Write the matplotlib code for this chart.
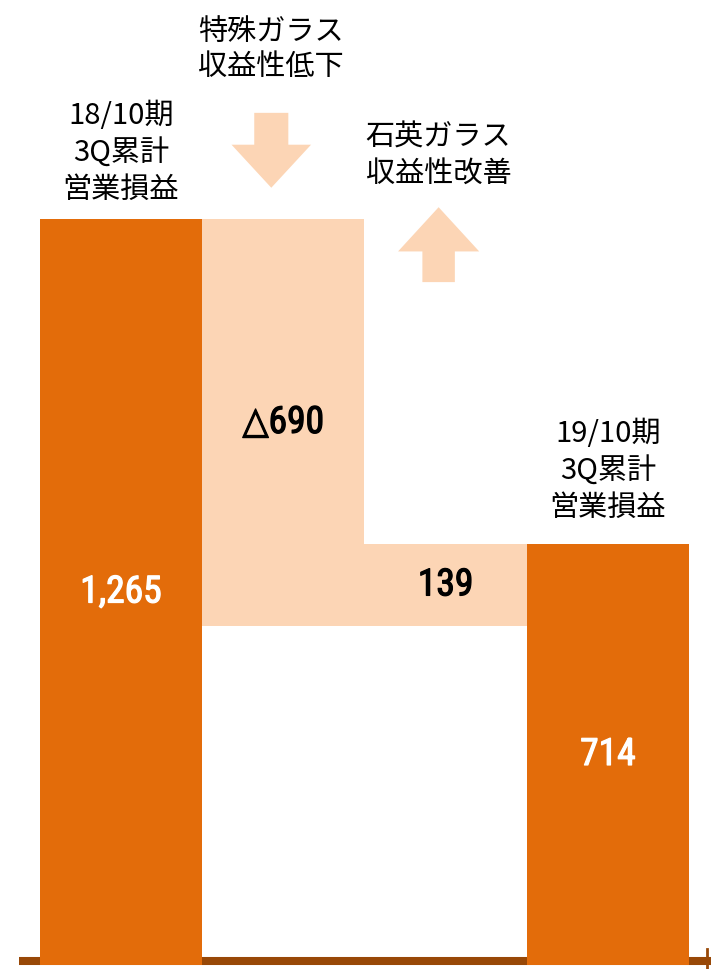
import matplotlib
matplotlib.use("Agg")
from matplotlib import pyplot as plt
from matplotlib import patheffects
import numpy as np

# waterfall data (operating profit, cumulative 3Q)
steps = ["18/10期\n3Q累計\n営業損益", "特殊ガラス\n収益性低下", "石英ガラス\n収益性改善", "19/10期\n3Q累計\n営業損益"]
start_value = 1265
changes = [-690, 139]
end_value = 714
value_labels = ["1,265", "△690", "139", "714"]

DARK = "#E36C0A"
LIGHT = "#FCD5B5"
AXIS = "#984807"
CJK = ["Noto Sans CJK JP", "DejaVu Sans"]
NUM = ["Roboto Condensed", "Liberation Sans Narrow", "Noto Sans", "DejaVu Sans"]

# bar geometry from the values
level = start_value
bottoms, heights = [0], [start_value]
for c in changes:
    new = level + c
    bottoms.append(min(level, new))
    heights.append(abs(c))
    level = new
bottoms.append(0)
heights.append(end_value)
colors = [DARK, LIGHT, LIGHT, DARK]
x = np.arange(len(heights))

fig = plt.figure(figsize=(7.11, 9.70), dpi=100)
ax = fig.add_axes([0, 0, 1, 1])
px_per_unit = (966 - 220) / start_value
ax.set_ylim(-4 / px_per_unit, 966 / px_per_unit)
ax.set_xlim(-121 / 162.3, (711 - 121) / 162.3)
ax.axis("off")

ax.bar(x, heights, bottom=bottoms, width=1.0, color=colors, zorder=3)

# baseline
ax.plot([19 / 711, 1], [8 / 970, 8 / 970], transform=ax.transAxes, color=AXIS,
        lw=5.8, solid_capstyle="butt", zorder=2)
ax.plot([707 / 711, 707 / 711], [0, 20 / 970], transform=ax.transAxes, color=AXIS,
        lw=2, zorder=2)

# value labels centred in the bars (slight stroke for a medium weight look)
label_c = ["white", "black", "black", "white"]
for xi, b, h, t, c in zip(x, bottoms, heights, value_labels, label_c):
    ax.text(xi, b + h / 2, t, ha="center", va="center", color=c, fontsize=27,
            fontweight="normal", fontstretch="condensed", family=NUM, zorder=4,
            path_effects=[patheffects.withStroke(linewidth=0.9, foreground=c)])

# category labels
ax.annotate(steps[0], (x[0], start_value), xytext=(0, 11), textcoords="offset points",
            ha="center", va="bottom", fontsize=21, family=CJK, linespacing=1.29)
ax.annotate(steps[3], (x[3], end_value), xytext=(0, 16), textcoords="offset points",
            ha="center", va="bottom", fontsize=21, family=CJK, linespacing=1.29)

# direction arrows
down_x = x[1] - 0.074
ax.arrow(down_x, start_value + 180, 0, -127, width=0.21, head_width=0.49,
         head_length=73, length_includes_head=True, color=LIGHT, lw=0, zorder=3)
ax.annotate(steps[1], (down_x, start_value + 180), xytext=(0, 23), textcoords="offset points",
            ha="center", va="bottom", fontsize=21, family=CJK, linespacing=1.2)

up_x = x[2] - 0.043
ax.arrow(up_x, start_value - 107, 0, 127, width=0.20, head_width=0.50,
         head_length=75, length_includes_head=True, color=LIGHT, lw=0, zorder=3)
ax.annotate(steps[2], (up_x, start_value + 20), xytext=(0, 13), textcoords="offset points",
            ha="center", va="bottom", fontsize=21, family=CJK, linespacing=1.33)

fig.savefig("out.png", dpi=100)
